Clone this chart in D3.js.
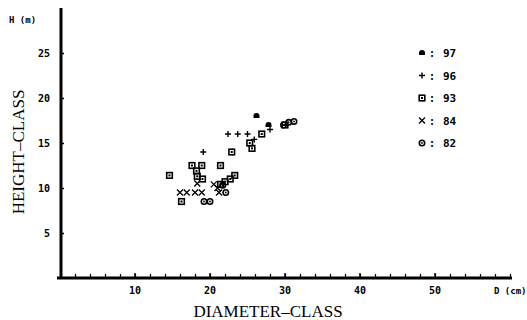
<!DOCTYPE html>
<html><head><meta charset="utf-8">
<script src="https://cdn.jsdelivr.net/npm/d3@7"></script>
<style>body{margin:0;background:#fff}svg{display:block}</style>
</head><body>
<script>
// Data (diameter cm, height m) per inventory year
const years = ["97", "96", "93", "84", "82"];
const s97 = [[26.2, 18.0], [27.8, 17.0]];
const s96 = [[19.1, 14.0], [22.4, 16.0], [23.7, 16.0], [25.0, 16.0], [25.9, 15.4], [28.0, 16.5]];
const s93 = [[14.6, 11.4], [17.6, 12.5], [18.9, 12.5], [21.4, 12.5], [18.2, 11.9], [18.3, 11.3], [19.0, 11.0],
             [16.2, 8.5], [22.9, 14.0], [26.9, 16.0], [25.3, 15.0], [25.6, 14.4], [22.0, 10.7], [22.7, 11.0],
             [23.3, 11.4], [21.4, 10.4], [30.0, 17.0]];
const s84 = [[16.0, 9.5], [16.9, 9.5], [18.0, 9.5], [18.9, 9.5], [18.3, 10.5], [21.0, 10.0], [21.2, 9.5], [20.5, 10.4]];
const s82 = [[19.2, 8.5], [20.0, 8.5], [22.1, 9.5], [21.7, 10.3], [29.8, 17.0], [30.5, 17.3], [31.2, 17.4]];
const xTicks = [10, 20, 30, 40, 50];
const yTicks = [5, 10, 15, 20, 25];

const W = 527, H = 320;
const svg = d3.select("body").append("svg").attr("width", W).attr("height", H);
const x = d3.scaleLinear().domain([0, 60]).range([60, 510]);
const y = d3.scaleLinear().domain([0, 30]).range([278, 8]);
const mono = "'DejaVu Sans Mono', monospace";

// minor ticks on x every 2
const xa = d3.axisBottom(x).tickValues(d3.range(2, 61, 2)).tickSize(-3).tickFormat("");
const gx = svg.append("g").attr("transform", "translate(0,277)").call(xa);
gx.select(".domain").remove();
gx.selectAll("line").attr("stroke", "#000").attr("stroke-width", 1.2);
xTicks.forEach(v => gx.append("line").attr("x1", x(v)).attr("x2", x(v)).attr("y1", 0).attr("y2", -4).attr("stroke", "#000").attr("stroke-width", 1.5));
gx.selectAll("text.lab").data(xTicks).enter().append("text").attr("class", "lab")
  .attr("x", d => x(d)).attr("y", 17).attr("text-anchor", "middle").attr("fill", "#000")
  .attr("font-family", mono).attr("font-weight", "bold").attr("font-size", 10).text(d => d);

const ya = d3.axisRight(y).tickValues(yTicks).tickSize(3).tickFormat("");
const gy = svg.append("g").attr("transform", "translate(61,0)").call(ya);
gy.select(".domain").remove();
gy.selectAll("line").attr("stroke", "#000").attr("stroke-width", 1.5);
gy.selectAll("text.lab").data(yTicks).enter().append("text").attr("class", "lab")
  .attr("x", -11).attr("y", d => y(d) + 4).attr("text-anchor", "end").attr("fill", "#000")
  .attr("font-family", mono).attr("font-weight", "bold").attr("font-size", 10).text(d => d);

// axis lines
svg.append("line").attr("x1", 57).attr("x2", 512).attr("y1", y(0)).attr("y2", y(0)).attr("stroke", "#000").attr("stroke-width", 3);
svg.append("line").attr("x1", 61).attr("x2", 61).attr("y1", 8).attr("y2", 279).attr("stroke", "#000").attr("stroke-width", 3);

svg.append("text").attr("x", 9).attr("y", 23).attr("font-family", mono).attr("font-weight", "bold").attr("font-size", 9).text("H (m)");
svg.append("text").attr("x", 494).attr("y", 294).attr("font-family", mono).attr("font-weight", "bold").attr("font-size", 9).text("D (cm)");

svg.append("text").attr("x", 268).attr("y", 317).attr("text-anchor", "middle")
  .attr("font-family", "'Liberation Serif', serif").attr("font-size", 17).text("DIAMETER–CLASS");
svg.append("text").attr("transform", "translate(24,152) rotate(-90)").attr("text-anchor", "middle")
  .attr("font-family", "'Liberation Serif', serif").attr("font-size", 17).text("HEIGHT–CLASS");

// marker drawers
function drawMarker(g, type) {
  if (type === "97") {
    g.append("path").attr("d", "M-3,2 L-3,0 A3,3 0 0 1 3,0 L3,2 Z").attr("fill", "#000");
  } else if (type === "96") {
    g.append("path").attr("d", "M-3,0H3M0,-3V3").attr("stroke", "#000").attr("stroke-width", 1.4);
  } else if (type === "93") {
    g.append("rect").attr("x", -2.8).attr("y", -2.8).attr("width", 5.6).attr("height", 5.6).attr("fill", "none").attr("stroke", "#000").attr("stroke-width", 1.6);
    g.append("rect").attr("x", -1).attr("y", -1).attr("width", 2).attr("height", 2).attr("fill", "#000");
  } else if (type === "84") {
    g.append("path").attr("d", "M-3,-3L3,3M-3,3L3,-3").attr("stroke", "#000").attr("stroke-width", 1.3);
  } else {
    g.append("circle").attr("r", 2.7).attr("fill", "none").attr("stroke", "#000").attr("stroke-width", 1.6);
    g.append("circle").attr("r", 0.9).attr("fill", "#000");
  }
}
const series = [s97, s96, s93, s84, s82];
series.forEach((arr, i) => {
  svg.append("g").selectAll("g").data(arr).enter().append("g")
    .attr("transform", d => `translate(${x(d[0])},${y(d[1])})`)
    .each(function() { drawMarker(d3.select(this), years[i]); });
});

// legend
years.forEach((yr, i) => {
  const ly = 53 + i * 22.5;
  const g = svg.append("g").attr("transform", `translate(422,${ly})`);
  drawMarker(g, yr);
  svg.append("text").attr("x", 429).attr("y", ly + 4).attr("font-family", mono).attr("font-weight", "bold").attr("font-size", 10).text(":");
  svg.append("text").attr("x", 443).attr("y", ly + 4).attr("font-family", mono).attr("font-weight", "bold").attr("font-size", 11).text(yr);
});
</script>
</body></html>
